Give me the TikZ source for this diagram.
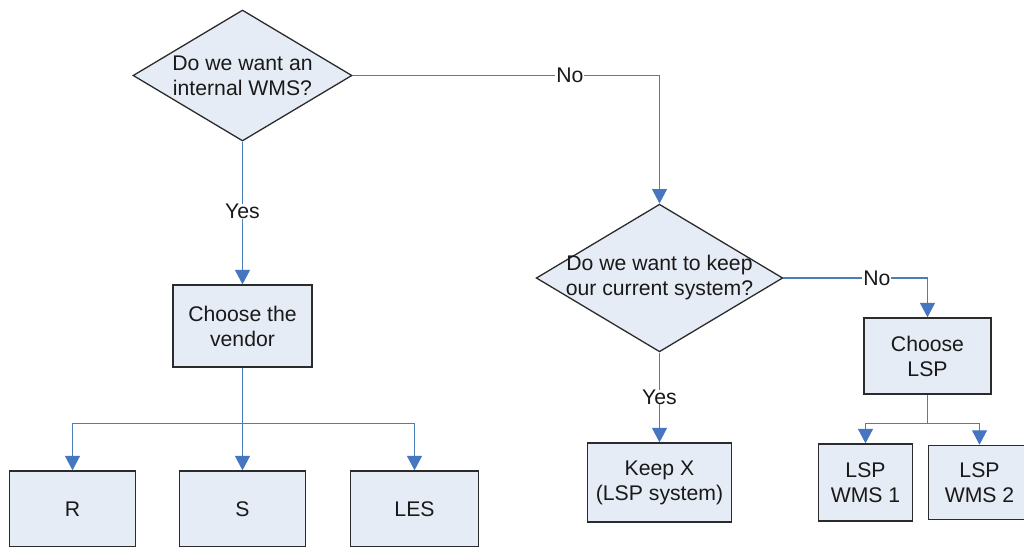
\documentclass[tikz,border=0pt]{standalone}
\usepackage{fontspec}
\setmainfont{Liberation Sans}
\usetikzlibrary{shapes.geometric,arrows.meta}

\definecolor{boxfill}{HTML}{E6ECF6}
\definecolor{boxline}{HTML}{2B2B2B}
\definecolor{linkc}{HTML}{4A7EBB}
\definecolor{tipc}{HTML}{4676C0}

\tikzset{
  every node/.style={font=\fontsize{21.2}{25}\selectfont, text=black!90},
  decision/.style={shape=diamond, draw=boxline, fill=boxfill, line width=1.3pt,
                   inner sep=0pt},
  qtext/.style={align=center, inner sep=0pt},
  stepbox/.style={draw=boxline, fill=boxfill, line width=1.3pt, align=center,
                  inner sep=0pt},
  conn/.style={draw=linkc, line width=1.1pt,
               -{Triangle[length=14.5pt,width=15pt,color=tipc]}},
  trunk/.style={draw=linkc, line width=1.1pt},
  lbl/.style={fill=white, inner xsep=1pt, inner ysep=0pt}
}

\begin{document}
\begin{tikzpicture}[x=1pt, y=-1pt]
  \useasboundingbox (0,0) rectangle (1024,547);
  \clip (0,0) rectangle (1024,546);

  % decisions
  \node[decision, minimum width=219pt, minimum height=131pt] (d1) at (242.5,75.5) {};
  \node[qtext] (d1t) at (d1) {Do we want an\\internal WMS?};
  \node[decision, minimum width=246.6pt, minimum height=147.7pt] (d2) at (659.5,278) {};
  \node[qtext] (d2t) at (d2) {Do we want to keep\\our current system?};

  % process boxes
  \node[stepbox, minimum width=139pt, minimum height=82pt] (cv) at (242.5,326) {Choose the\\vendor};
  \node[stepbox, minimum width=126pt, minimum height=76pt] (r) at (72.5,509) {R};
  \node[stepbox, minimum width=126pt, minimum height=76pt] (s) at (242.5,509) {S};
  \node[stepbox, minimum width=128pt, minimum height=76pt] (les) at (414.5,509) {LES};

  \node[stepbox, minimum width=144pt, minimum height=79pt] (keep) at (659.5,482.5) {Keep X\\(LSP system)};
  \node[stepbox, minimum width=127pt, minimum height=76pt] (lsp) at (927.5,356) {Choose\\LSP};
  \node[stepbox, minimum width=94pt, minimum height=77pt] (w1) at (865.5,482.5) {LSP\\WMS 1};
  \node[stepbox, minimum width=102pt, minimum height=74pt] (w2) at (979.5,482.4) {LSP\\WMS 2};

  % branching points
  \coordinate (bl) at (242.5,423.5);
  \coordinate (br) at (927.5,423.5);

  % connectors
  \draw[conn] (d1.east) -| node[lbl, pos=0.354] {No} (d2.north);
  \draw[conn] (d1.south) -- node[lbl, pos=0.49] {Yes} (cv.north);

  \draw[trunk] (cv.south) -- (bl);
  \draw[conn] (bl) -| (r.north);
  \draw[conn] (bl) -| (les.north);
  \draw[conn] (bl) -- (s.north);

  \draw[conn] (d2.east) -| node[lbl, pos=0.324] {No} (lsp.north);
  \draw[conn] (d2.south) -- node[lbl, pos=0.495] {Yes} (keep.north);

  \draw[trunk] (lsp.south) -- (br);
  \draw[conn] (br) -| (w1.north);
  \draw[conn] (br) -| (w2.north);
\end{tikzpicture}
\end{document}
